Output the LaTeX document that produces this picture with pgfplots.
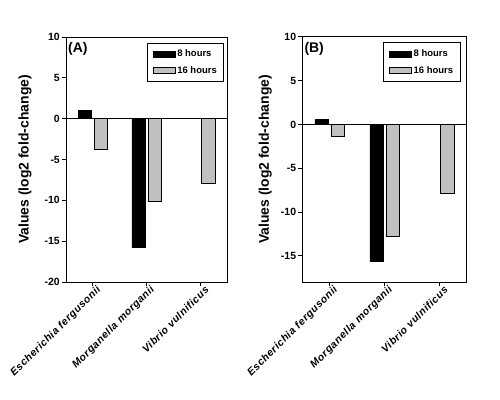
\documentclass[border=0pt]{standalone}
\usepackage{fontspec}
\setmainfont{Liberation Sans}
\usepackage{pgfplots}
\pgfplotsset{compat=1.18}
\definecolor{grayfill}{RGB}{192,192,192}
\pgfplotsset{
  common/.style={
    scale only axis,
    ybar,
    bar width=13.5bp,
    xmin=-0.5, xmax=2.5,
    xtick={0,1,2},
    xticklabels={\textit{Escherichia fergusonii},\textit{Morganella morganii},\textit{Vibrio vulnificus}},
    tick pos=left,
    tick align=outside,
    major tick length=4bp,
    axis line style={line width=1bp},
    tick style={line width=1bp, black},
    /pgf/number format/assume math mode=true,
    yticklabel style={font=\bfseries\fontsize{10.5}{10.5}\selectfont, inner sep=2bp},
    xticklabel style={font=\bfseries\fontsize{10.5}{10.5}\selectfont\addfontfeature{LetterSpace=5}, rotate=45, anchor=east, inner sep=1bp, xshift=5bp, yshift=-6bp},
    ylabel={Values (log2 fold-change)},
    ylabel style={font=\bfseries\fontsize{14}{14}\selectfont, rotate=0},
    legend image code/.code={\draw[#1,line width=0.7bp] (0bp,-3bp) rectangle (22bp,3bp);},
    legend style={draw=black, line width=1bp, font=\bfseries\fontsize{9.5}{10}\selectfont,
      inner xsep=5bp, inner ysep=5bp, row sep=4bp, cells={anchor=west}},
  }
}
\begin{document}
\begin{tikzpicture}[x=1bp,y=1bp]
\useasboundingbox (0,0) rectangle (500,399);
% Panel A
\begin{axis}[common,
  at={(66bp,117bp)}, anchor=south west,
  width=161bp, height=245bp,
  ymin=-20, ymax=10, ytick={-20,-15,...,10},
  ylabel style={at={(axis description cs:-0.255,0.5)}, anchor=center},
  legend style={at={(0.983,0.977)}, anchor=north east},
]
\addplot[fill=black, draw=black, bar shift=-8bp] coordinates {(0,1.0) (1,-15.75)};
\addplot[fill=grayfill, draw=black, bar shift=8bp] coordinates {(0,-3.7) (1,-10.1) (2,-7.9)};
\legend{8 hours,16 hours}
\draw[line width=1bp] (axis cs:-0.5,0) -- (axis cs:2.5,0);
\node[anchor=north west, inner sep=1bp, font=\bfseries\fontsize{14}{14}\selectfont] at ([xshift=1bp,yshift=-4bp]rel axis cs:0,1) {(A)};
\end{axis}
% Panel B
\begin{axis}[common,
  at={(302.3bp,117bp)}, anchor=south west,
  width=164.4bp, height=245bp,
  ymin=-18, ymax=10, ytick={-15,-10,...,10},
  ylabel style={at={(axis description cs:-0.225,0.5)}, anchor=center},
  legend style={at={(0.963,0.978)}, anchor=north east},
]
\addplot[fill=black, draw=black, bar shift=-8bp] coordinates {(0,0.6) (1,-15.6)};
\addplot[fill=grayfill, draw=black, bar shift=8bp] coordinates {(0,-1.3) (1,-12.8) (2,-7.8)};
\legend{8 hours,16 hours}
\draw[line width=1bp] (axis cs:-0.5,0) -- (axis cs:2.5,0);
\node[anchor=north west, inner sep=1bp, font=\bfseries\fontsize{14}{14}\selectfont] at ([xshift=1bp,yshift=-4bp]rel axis cs:0,1) {(B)};
\end{axis}
\end{tikzpicture}
\end{document}
